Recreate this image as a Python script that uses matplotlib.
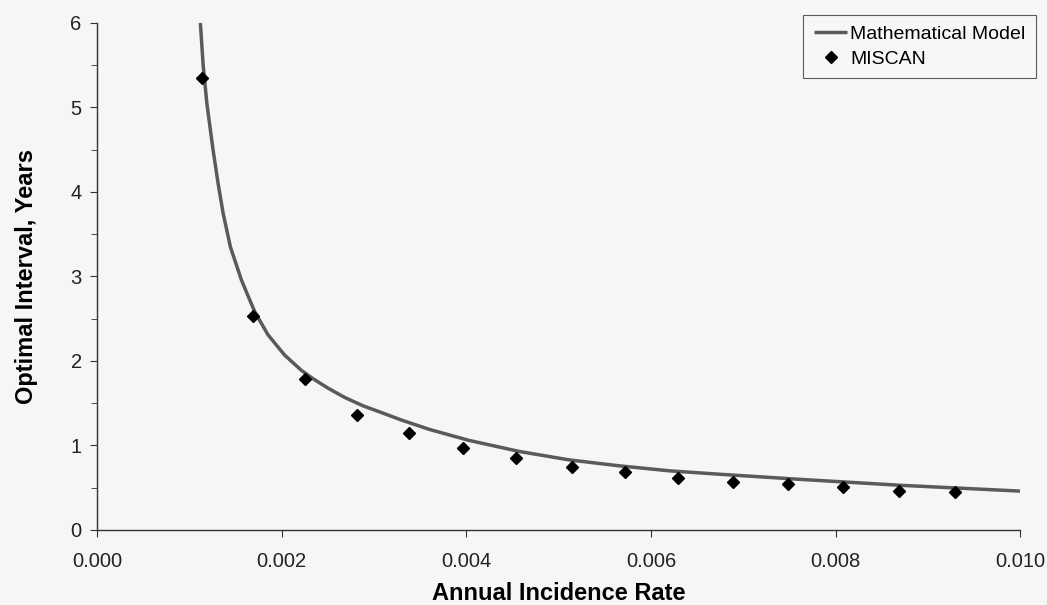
import numpy as np
import matplotlib.pyplot as plt
from matplotlib.ticker import MultipleLocator

# Courbe du modèle mathématique
model_x = [0.00112, 0.00115, 0.00119, 0.001257, 0.001312, 0.001366, 0.001445,
           0.001564, 0.00164, 0.00171, 0.001852, 0.002032, 0.002213, 0.00234,
           0.00250, 0.00268, 0.00288, 0.00308, 0.00330, 0.00360, 0.00403,
           0.00457, 0.00511, 0.00565, 0.00620, 0.00674, 0.00760, 0.00868,
           0.01000]
model_y = [6.00, 5.50, 5.05, 4.50, 4.10, 3.75, 3.35,
           2.96, 2.76, 2.58, 2.31, 2.07, 1.89, 1.79,
           1.68, 1.57, 1.47, 1.39, 1.30, 1.19, 1.06,
           0.93, 0.83, 0.76, 0.70, 0.66, 0.60, 0.53,
           0.46]

# Points MISCAN
miscan_x = [0.00114, 0.00169, 0.00225, 0.00282, 0.00338, 0.00396, 0.00454,
            0.00514, 0.00572, 0.00629, 0.00689, 0.00748, 0.00808, 0.00868,
            0.00929]
miscan_y = [5.35, 2.53, 1.79, 1.36, 1.15, 0.97, 0.85,
            0.75, 0.69, 0.62, 0.57, 0.54, 0.51, 0.46,
            0.45]

plt.rcParams['font.family'] = ['Liberation Sans', 'DejaVu Sans']

fig = plt.figure(figsize=(10.47, 6.05), dpi=100, facecolor='#f6f6f6')
ax = fig.add_axes([0.0926, 0.124, 0.882, 0.838], facecolor='#f6f6f6')

ax.plot(model_x, model_y, color='#5a5a5a', lw=2.5, label='Mathematical Model',
        solid_capstyle='butt', solid_joinstyle='round', zorder=2)
ax.plot(miscan_x, miscan_y, 'D', color='black', ms=6, ls='none', label='MISCAN',
        zorder=3)

ax.set_xlim(0, 0.010)
ax.set_ylim(0, 6)
ax.xaxis.set_major_locator(MultipleLocator(0.002))
ax.yaxis.set_major_locator(MultipleLocator(1))
ax.yaxis.set_minor_locator(MultipleLocator(0.5))
ax.xaxis.set_major_formatter(plt.FuncFormatter(lambda v, p: f'{v:.3f}'))

for s in ['top', 'right']:
    ax.spines[s].set_visible(False)
for s in ['left', 'bottom']:
    ax.spines[s].set_color('#333333')
    ax.spines[s].set_linewidth(1.0)

ax.tick_params(axis='both', which='both', direction='out', color='#333333',
               labelsize=14.5, labelcolor='#222222')
ax.tick_params(axis='x', which='major', length=5, pad=11)
ax.tick_params(axis='y', which='major', length=5, pad=6)
ax.tick_params(axis='y', which='minor', length=4)

ax.set_xlabel('Annual Incidence Rate', fontsize=17, fontweight='bold', labelpad=7.5)
ax.set_ylabel('Optimal Interval, Years', fontsize=17, fontweight='bold', labelpad=23)

leg = ax.legend(loc='upper right', bbox_to_anchor=(1036 / 1047, 1 - 15 / 605),
                bbox_transform=fig.transFigure, fontsize=14, frameon=True,
                fancybox=False, edgecolor='#333333', facecolor='#f8f8f8',
                handlelength=1.7, handletextpad=0.15, borderpad=0.55,
                labelspacing=0.35, borderaxespad=0)
leg.get_frame().set_linewidth(0.8)

fig.savefig('out.png', dpi=100, facecolor=fig.get_facecolor())
